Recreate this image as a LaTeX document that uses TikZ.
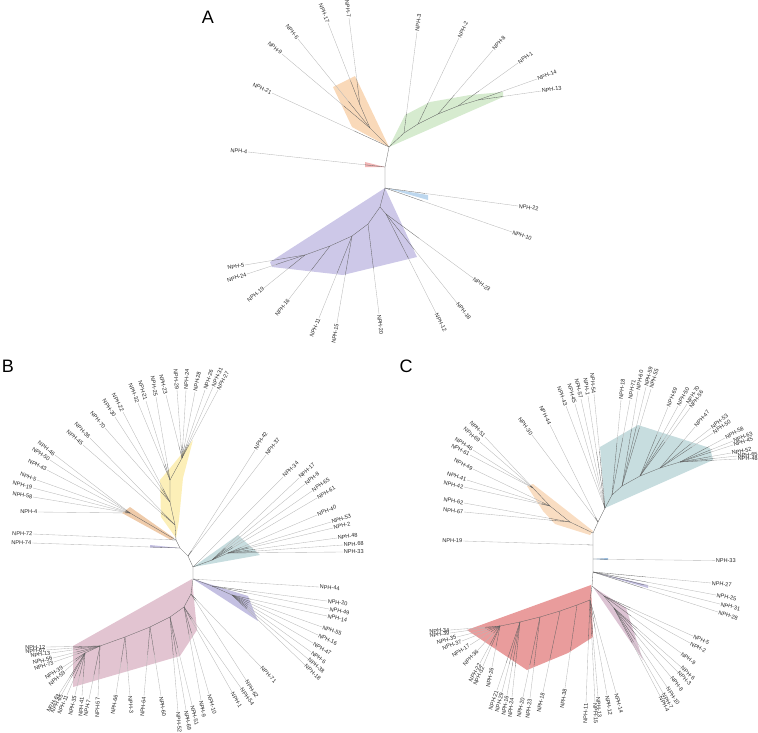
\documentclass[tikz,border=0pt]{standalone}
\usepackage{fontspec}
\setmainfont{Liberation Sans}
\usetikzlibrary{calc}
\definecolor{cOr}{HTML}{F9D9B9}
\definecolor{cGr}{HTML}{D6EBCF}
\definecolor{cRd}{HTML}{F2B6B6}
\definecolor{cBl}{HTML}{BDD7EE}
\definecolor{cPu}{HTML}{CDC8E8}
\definecolor{cYe}{HTML}{FCEFB8}
\definecolor{cTa}{HTML}{EFCBAA}
\definecolor{cTe}{HTML}{C7DDDF}
\definecolor{cLa}{HTML}{C4C0E2}
\definecolor{cPi}{HTML}{E2C4D1}
\definecolor{cPe}{HTML}{F9DDC2}
\definecolor{cRe}{HTML}{E99C9C}
\definecolor{cMa}{HTML}{DCC3D3}
\definecolor{cBs}{HTML}{9DBEDF}
\tikzset{
 br/.style={draw=black!62, line width=0.3pt},
 dl/.style={draw=black!28, line width=0.35pt},
 lab/.style={font=\fontsize{5.6}{6.5}\selectfont, inner sep=0.6pt, text=black!85},
 panel/.style={font=\fontsize{18}{18}\selectfont, inner sep=0pt},
}
\newcommand\lf[6]{%
 \draw[br] (#2) -- ($(#2)!#3!(#4)$) coordinate (#1m);
 \draw[dl] (#1m) -- (#4) node[lab, sloped, pos=1, anchor=#6] (#1) {#5};}
\begin{document}
\begin{tikzpicture}[x=1pt,y=-1pt]
\useasboundingbox (0,0) rectangle (758,732);
% ================= Panel A =================
\node[panel] (lA) at (208,17) {A};
\coordinate (Aj1) at (389,147);
\coordinate (Aj2) at (385,167);
\coordinate (Aj3) at (385,188);
\fill[cOr] (389,147) -- (352,127) -- (333,87) -- (355,76) -- cycle;
\fill[cGr] (389,147) -- (405,115) -- (430,102) -- (470,95) -- (503,92) -- (503,97) -- cycle;
\fill[cRd] (385,167) -- (365,162) -- (365,167) -- cycle;
\fill[cBl] (386,188) -- (428,195) -- (428,200) -- cycle;
\fill[cPu] (385,188) -- (417,257) -- (343,275) -- (272,267) -- (270,262) -- cycle;
\draw[br] (Aj1) -- (Aj2) -- (Aj3);
\coordinate (o1) at (370,128);
\coordinate (o2) at (360,105);
\draw[br] (Aj1) -- (o1) -- (o2);
\lf{a21}{Aj1}{0.3}{272,93}{NPH-21}{east}
\lf{a9}{o1}{0.3}{282,54}{NPH-9}{east}
\lf{a6}{o1}{0.3}{298,39}{NPH-6}{east}
\lf{a17}{o2}{0.3}{328,23}{NPH-17}{east}
\lf{a7}{o2}{0.3}{349,18}{NPH-7}{east}
\coordinate (g1) at (404,133);
\coordinate (g2) at (418,124);
\coordinate (g3) at (438,114);
\coordinate (g4) at (458,106);
\coordinate (g5) at (478,100);
\draw[br] (Aj1) -- (g1) -- (g2) -- (g3) -- (g4) -- (g5);
\lf{a3}{g1}{0.2}{417,32}{NPH-3}{west}
\lf{a2}{g2}{0.25}{459,38}{NPH-2}{west}
\lf{a8}{g3}{0.3}{493,50}{NPH-8}{west}
\lf{a1}{g4}{0.35}{518,63}{NPH-1}{west}
\lf{a14}{g5}{0.4}{537,79}{NPH-14}{west}
\lf{a13}{g5}{0.4}{541,91}{NPH-13}{west}
\lf{a4}{Aj2}{0.15}{248,152}{NPH-4}{east}
\lf{a22}{Aj3}{0.3}{518,206}{NPH-22}{west}
\lf{a10}{Aj3}{0.3}{512,232}{NPH-10}{west}
\coordinate (p1) at (380,207);
\coordinate (p2) at (386,214);
\coordinate (p3) at (368,224);
\coordinate (p4) at (352,236);
\coordinate (p5) at (330,246);
\coordinate (p6) at (305,255);
\draw[br] (Aj3) -- (p1) -- (p3) -- (p4) -- (p5) -- (p6);
\draw[br] (p1) -- (p2);
\lf{a23}{p2}{0.38}{473,278}{NPH-23}{west}
\lf{a18}{p2}{0.4}{457,303}{NPH-18}{west}
\lf{a12}{p2}{0.45}{436,313}{NPH-12}{west}
\lf{a20}{p3}{0.5}{379,314}{NPH-20}{west}
\lf{a15}{p4}{0.45}{337,323}{NPH-15}{east}
\lf{a11}{p4}{0.45}{319,318}{NPH-11}{east}
\lf{a16}{p5}{0.45}{289,299}{NPH-16}{east}
\lf{a19}{p6}{0.4}{264,288}{NPH-19}{east}
\lf{a24}{p6}{0.5}{247,274}{NPH-24}{east}
\lf{a5}{p6}{0.55}{245,265}{NPH-5}{east}
% ================= Panel B =================
\node[panel] (lB) at (8,366) {B};
\coordinate (Bj1) at (176,540);
\coordinate (Bj2) at (180,548);
\coordinate (Bj3) at (188,556);
\coordinate (Bj4) at (193,567);
\coordinate (Bj5) at (193,579);
\fill[cYe] (176,538) -- (161,517) -- (160,480) -- (171,467) -- (193,440) -- (183,478) -- (179,520) -- cycle;
\fill[cTa] (122,513) -- (130,507) -- (174,538) -- (171,540) -- cycle;
\fill[cLa] (180,548) -- (150,545) -- (150,547.5) -- cycle;
\fill[cTe] (193,567) -- (238,535) -- (260,555) -- cycle;
\fill[cLa] (193,579) -- (248,596) -- (258,621) -- cycle;
\fill[cPi] (192,579) -- (73,646) -- (73,687) -- (180,656) -- (197,630) -- cycle;
\draw[br] (Bj1) -- (Bj2) -- (Bj3) -- (Bj4) -- (Bj5);
\coordinate (y1) at (175,525);
\coordinate (y2) at (170,502);
\coordinate (y3) at (170,480);
\coordinate (y4) at (182,458);
\draw[br] (Bj1) -- (y1) -- (y2) -- (y3) -- (y4);
\lf{b45}{y1}{0.15}{83,445}{NPH-45}{east}
\lf{b36}{y1}{0.15}{90,438}{NPH-36}{east}
\lf{b70}{y2}{0.15}{105,428}{NPH-70}{east}
\lf{b30}{y2}{0.15}{115,417}{NPH-30}{east}
\lf{b22}{y2}{0.15}{123,412}{NPH-22}{east}
\lf{b32}{y3}{0.2}{138,403}{NPH-32}{east}
\lf{b21}{y3}{0.2}{146,401}{NPH-21}{east}
\lf{b25}{y3}{0.2}{156,397}{NPH-25}{east}
\lf{b23}{y4}{0.2}{166,395}{NPH-23}{east}
\lf{b29}{y4}{0.2}{177,390}{NPH-29}{east}
\lf{b24}{y4}{0.2}{186,390}{NPH-24}{west}
\lf{b28}{y4}{0.2}{195,392}{NPH-28}{west}
\lf{b26}{y4}{0.2}{205,390}{NPH-26}{west}
\lf{b31}{y4}{0.2}{213,387}{NPH-31}{west}
\lf{b27}{y4}{0.2}{218,390}{NPH-27}{west}
\coordinate (t1) at (130,513);
\draw[br] (Bj1) -- (t1);
\lf{b46}{t1}{0.05}{55,455}{NPH-46}{east}
\lf{b50}{t1}{0.05}{50,460}{NPH-50}{east}
\lf{b43}{t1}{0.05}{47,470}{NPH-43}{east}
\lf{b5}{t1}{0.05}{37,480}{NPH-5}{east}
\lf{b19}{t1}{0.05}{33,488}{NPH-19}{east}
\lf{b58}{t1}{0.05}{33,497}{NPH-58}{east}
\lf{b4}{t1}{0.05}{38,512}{NPH-4}{east}
\lf{b72}{Bj1}{0.05}{33,534}{NPH-72}{east}
\lf{b74}{Bj2}{0.2}{32,543}{NPH-74}{east}
\lf{b42}{Bj3}{0.05}{255,450}{NPH-42}{west}
\lf{b37}{Bj3}{0.05}{266,455}{NPH-37}{west}
\coordinate (k1) at (212,560);
\coordinate (k2) at (228,553);
\draw[br] (Bj4) -- (k1) -- (k2);
\lf{b34}{Bj4}{0.08}{283,477}{NPH-34}{west}
\lf{b17}{k1}{0.15}{299,478}{NPH-17}{west}
\lf{b8}{k1}{0.15}{305,484}{NPH-8}{west}
\lf{b65}{k1}{0.2}{312,491}{NPH-65}{west}
\lf{b61}{k1}{0.2}{317,498}{NPH-61}{west}
\lf{b40}{k2}{0.15}{317,515}{NPH-40}{west}
\lf{b53}{k2}{0.2}{331,522}{NPH-53}{west}
\lf{b2}{k2}{0.2}{333,528}{NPH-2}{west}
\lf{b48}{k2}{0.25}{337,538}{NPH-48}{west}
\lf{b68}{k2}{0.25}{343,545}{NPH-68}{west}
\lf{b33}{k2}{0.27}{343,552}{NPH-33}{west}
\coordinate (l1) at (212,586);
\coordinate (l2) at (232,595);
\draw[br] (Bj5) -- (l1) -- (l2);
\lf{b44}{Bj5}{0.05}{319,587}{NPH-44}{west}
\lf{b20}{l1}{0.3}{327,601}{NPH-20}{west}
\lf{b49}{l1}{0.3}{329,609}{NPH-49}{west}
\lf{b14}{l2}{0.2}{327,616}{NPH-14}{west}
\lf{b55}{l2}{0.2}{322,627}{NPH-55}{west}
\lf{b16}{l2}{0.2}{318,635}{NPH-16}{west}
\lf{b47}{l2}{0.2}{313,643}{NPH-47}{west}
\lf{b6}{l2}{0.2}{311,652}{NPH-6}{west}
\lf{b38}{l2}{0.2}{308,659}{NPH-38}{west}
\lf{b18}{l2}{0.2}{305,665}{NPH-18}{west}
\coordinate (q1) at (191,594);
\coordinate (q2) at (184,607);
\coordinate (q3) at (170,617);
\coordinate (q4) at (150,627);
\coordinate (q5) at (125,637);
\coordinate (q6) at (100,646);
\coordinate (q7) at (85,653);
\draw[br] (Bj5) -- (q1) -- (q2) -- (q3) -- (q4) -- (q5) -- (q6) -- (q7);
\lf{b71}{q1}{0.08}{261,667}{NPH-71}{west}
\lf{b62}{q1}{0.08}{246,680}{NPH-62}{west}
\lf{b54}{q2}{0.15}{241,688}{NPH-54}{west}
\lf{b1}{q2}{0.15}{232,692}{NPH-1}{west}
\lf{b10}{q2}{0.3}{209,694}{NPH-10}{west}
\lf{b9}{q2}{0.3}{201,700}{NPH-9}{west}
\lf{b51}{q3}{0.35}{192,705}{NPH-51}{west}
\lf{b69}{q3}{0.4}{186,710}{NPH-69}{west}
\lf{b52}{q3}{0.4}{178,712}{NPH-52}{west}
\lf{b60}{q4}{0.4}{161,696}{NPH-60}{west}
\lf{b64}{q4}{0.4}{144,696}{NPH-64}{east}
\lf{b3}{q5}{0.45}{130,696}{NPH-3}{west}
\lf{b66}{q5}{0.45}{116,694}{NPH-66}{east}
\lf{b57}{q6}{0.55}{98,697}{NPH-57}{east}
\lf{b7}{q6}{0.55}{89,699}{NPH-7}{east}
\lf{b41}{q7}{0.55}{82,696}{NPH-41}{east}
\lf{b35}{q7}{0.55}{75,695}{NPH-35}{east}
\lf{b11}{q7}{0.6}{67,695}{NPH-11}{east}
\lf{b65p}{q7}{0.6}{62,694}{NPH-65}{east}
\lf{b63}{q7}{0.6}{59,694}{NPH-63}{east}
\lf{b59}{q7}{0.45}{65,671}{NPH-59}{east}
\lf{b39}{q7}{0.45}{63,667}{NPH-39}{east}
\lf{b73}{q6}{0.5}{54,662}{NPH-73}{east}
\lf{b56}{q6}{0.5}{53,658}{NPH-56}{east}
\lf{b13}{q6}{0.5}{51,653}{NPH-13}{east}
\lf{b67}{q6}{0.5}{46,650}{NPH-67}{east}
\lf{b12}{q6}{0.5}{46,647}{NPH-12}{east}
% ================= Panel C =================
\node[panel] (lC) at (406,366) {C};
\coordinate (Cj1) at (593,533);
\coordinate (Ct) at (605,508);
\coordinate (c0) at (598,522);
\coordinate (Cj2) at (593,545);
\coordinate (Cj3) at (593,559);
\coordinate (Cj4) at (593,572);
\coordinate (Cj5) at (592,586);
\fill[cPe] (527,486) -- (533,484) -- (593,531) -- (590,535) -- (555,524) -- (543,511) -- cycle;
\fill[cTe] (605,508) -- (600,447) -- (638,425) -- (710,448) -- (713,460) -- cycle;
\fill[cBs] (593,559) -- (608,558) -- (608,560) -- cycle;
\fill[cLa] (593,572) -- (648,585) -- (648,588) -- cycle;
\fill[cMa] (593,587) -- (626,608) -- (643,660) -- cycle;
\fill[cRe] (591,585) -- (467,630) -- (527,670) -- (568,653) -- (593,637) -- cycle;
\draw[br] (Ct) -- (c0) -- (Cj1) -- (Cj2) -- (Cj3) -- (Cj4) -- (Cj5);
\coordinate (r1) at (570,522);
\coordinate (r2) at (550,506);
\coordinate (r3) at (533,488);
\draw[br] (Cj1) -- (r1) -- (r2) -- (r3);
\lf{c51}{r3}{0.05}{485,437}{NPH-51}{east}
\lf{c69}{r3}{0.05}{480,442}{NPH-69}{east}
\lf{c46}{r3}{0.05}{473,450}{NPH-46}{east}
\lf{c61}{r3}{0.05}{470,455}{NPH-61}{east}
\lf{c49}{r2}{0.1}{473,469}{NPH-49}{east}
\lf{c41}{r2}{0.1}{467,480}{NPH-41}{east}
\lf{c42}{r2}{0.1}{464,487}{NPH-42}{east}
\lf{c62}{r1}{0.2}{464,503}{NPH-62}{east}
\lf{c67}{r1}{0.2}{464,512}{NPH-67}{east}
\lf{c30}{c0}{0.05}{532,435}{NPH-30}{east}
\lf{c44}{c0}{0.05}{550,425}{NPH-44}{east}
\lf{c43}{Ct}{0.05}{566,406}{NPH-43}{east}
\lf{c45}{Ct}{0.05}{575,404}{NPH-45}{east}
\lf{c57}{Ct}{0.05}{581,399}{NPH-57}{east}
\coordinate (m1) at (612,495);
\coordinate (m2) at (622,486);
\coordinate (m3) at (640,476);
\coordinate (m4) at (660,468);
\coordinate (m5) at (680,462);
\draw[br] (Ct) -- (m1) -- (m2) -- (m3) -- (m4) -- (m5);
\lf{c1}{Ct}{0.5}{588,396}{NPH-1}{east}
\lf{c54}{Ct}{0.5}{594,394}{NPH-54}{east}
\lf{c18}{m1}{0.55}{621,400}{NPH-18}{west}
\lf{c71}{m1}{0.6}{630,400}{NPH-71}{west}
\lf{c60}{m2}{0.6}{638,391}{NPH-60}{west}
\lf{c59}{m2}{0.6}{646,387}{NPH-59}{west}
\lf{c55}{m2}{0.6}{651,389}{NPH-55}{west}
\lf{c69b}{m3}{0.6}{668,407}{NPH-69}{west}
\lf{c50}{m3}{0.55}{678,406}{NPH-50}{west}
\lf{c70}{m3}{0.5}{687,404}{NPH-70}{west}
\lf{c56}{m3}{0.5}{690,408}{NPH-56}{west}
\lf{c47}{m4}{0.65}{695,427}{NPH-47}{west}
\lf{c53}{m4}{0.6}{711,428}{NPH-53}{west}
\lf{c50b}{m4}{0.6}{713,433}{NPH-50}{west}
\lf{c58}{m5}{0.65}{725,438}{NPH-58}{west}
\lf{c63}{m5}{0.6}{733,441}{NPH-63}{west}
\lf{c45b}{m5}{0.6}{733,445}{NPH-45}{west}
\lf{c52}{m5}{0.6}{731,453}{NPH-52}{west}
\lf{c65}{m5}{0.6}{737,456}{NPH-65}{west}
\lf{c48}{m5}{0.6}{737,459}{NPH-48}{west}
\lf{c19}{Cj2}{0.05}{463,541}{NPH-19}{east}
\lf{c33}{Cj3}{0.12}{715,560.6}{NPH-33}{west}
\lf{c27}{Cj4}{0.45}{711,583}{NPH-27}{west}
\lf{c25}{Cj4}{0.45}{716,595}{NPH-25}{west}
\lf{c31}{Cj4}{0.4}{720,604}{NPH-31}{west}
\lf{c28}{Cj4}{0.4}{718,612}{NPH-28}{west}
\coordinate (u1) at (604,596);
\coordinate (u2) at (614,608);
\draw[br] (Cj5) -- (u1) -- (u2);
\lf{c5}{u1}{0.3}{693,636}{NPH-5}{west}
\lf{c2}{u1}{0.3}{690,643}{NPH-2}{west}
\lf{c9}{u1}{0.35}{681,653}{NPH-9}{west}
\lf{c6}{u2}{0.35}{681,667}{NPH-6}{west}
\lf{c3}{u2}{0.35}{678,672}{NPH-3}{west}
\lf{c8}{u2}{0.4}{671,677}{NPH-8}{west}
\lf{c10}{u2}{0.4}{667,687}{NPH-10}{west}
\lf{c7}{u2}{0.4}{663,693}{NPH-7}{west}
\lf{c4}{u2}{0.4}{660,696}{NPH-4}{west}
\coordinate (v1) at (590,600);
\coordinate (v2) at (577,605);
\coordinate (v3) at (560,611);
\coordinate (v4) at (540,617);
\coordinate (v5) at (520,622);
\coordinate (v6) at (500,626);
\draw[br] (Cj5) -- (v1) -- (v2) -- (v3) -- (v4) -- (v5) -- (v6);
\lf{c14}{v1}{0.2}{616,693}{NPH-14}{west}
\lf{c12}{v1}{0.3}{607,695}{NPH-12}{west}
\lf{c13}{v1}{0.35}{598,697}{NPH-13}{west}
\lf{c15}{v1}{0.35}{595,703}{NPH-15}{west}
\lf{c11}{v1}{0.4}{586,703}{NPH-11}{east}
\lf{c38}{v2}{0.55}{565,688}{NPH-38}{east}
\lf{c18b}{v3}{0.6}{543,692}{NPH-18}{east}
\lf{c23}{v4}{0.6}{530,698}{NPH-23}{east}
\lf{c20}{v4}{0.6}{523,697}{NPH-20}{east}
\lf{c24}{v5}{0.6}{512,697}{NPH-24}{east}
\lf{c16}{v5}{0.6}{507,695}{NPH-16}{east}
\lf{c29}{v5}{0.6}{502,692}{NPH-29}{east}
\lf{c21}{v5}{0.6}{497,690}{NPH-21}{east}
\lf{c26}{v6}{0.5}{492,667}{NPH-26}{east}
\lf{c32}{v6}{0.5}{483,666}{NPH-32}{east}
\lf{c22}{v6}{0.5}{480,663}{NPH-22}{east}
\lf{c36}{v6}{0.3}{478,650}{NPH-36}{east}
\lf{c17}{v6}{0.3}{470,645}{NPH-17}{east}
\lf{c37}{v6}{0.3}{462,641}{NPH-37}{east}
\lf{c35}{v6}{0.3}{457,637}{NPH-35}{east}
\lf{c39}{v6}{0.3}{450,633}{NPH-39}{east}
\lf{c34}{v6}{0.3}{450,630}{NPH-34}{east}
\end{tikzpicture}
\end{document}
